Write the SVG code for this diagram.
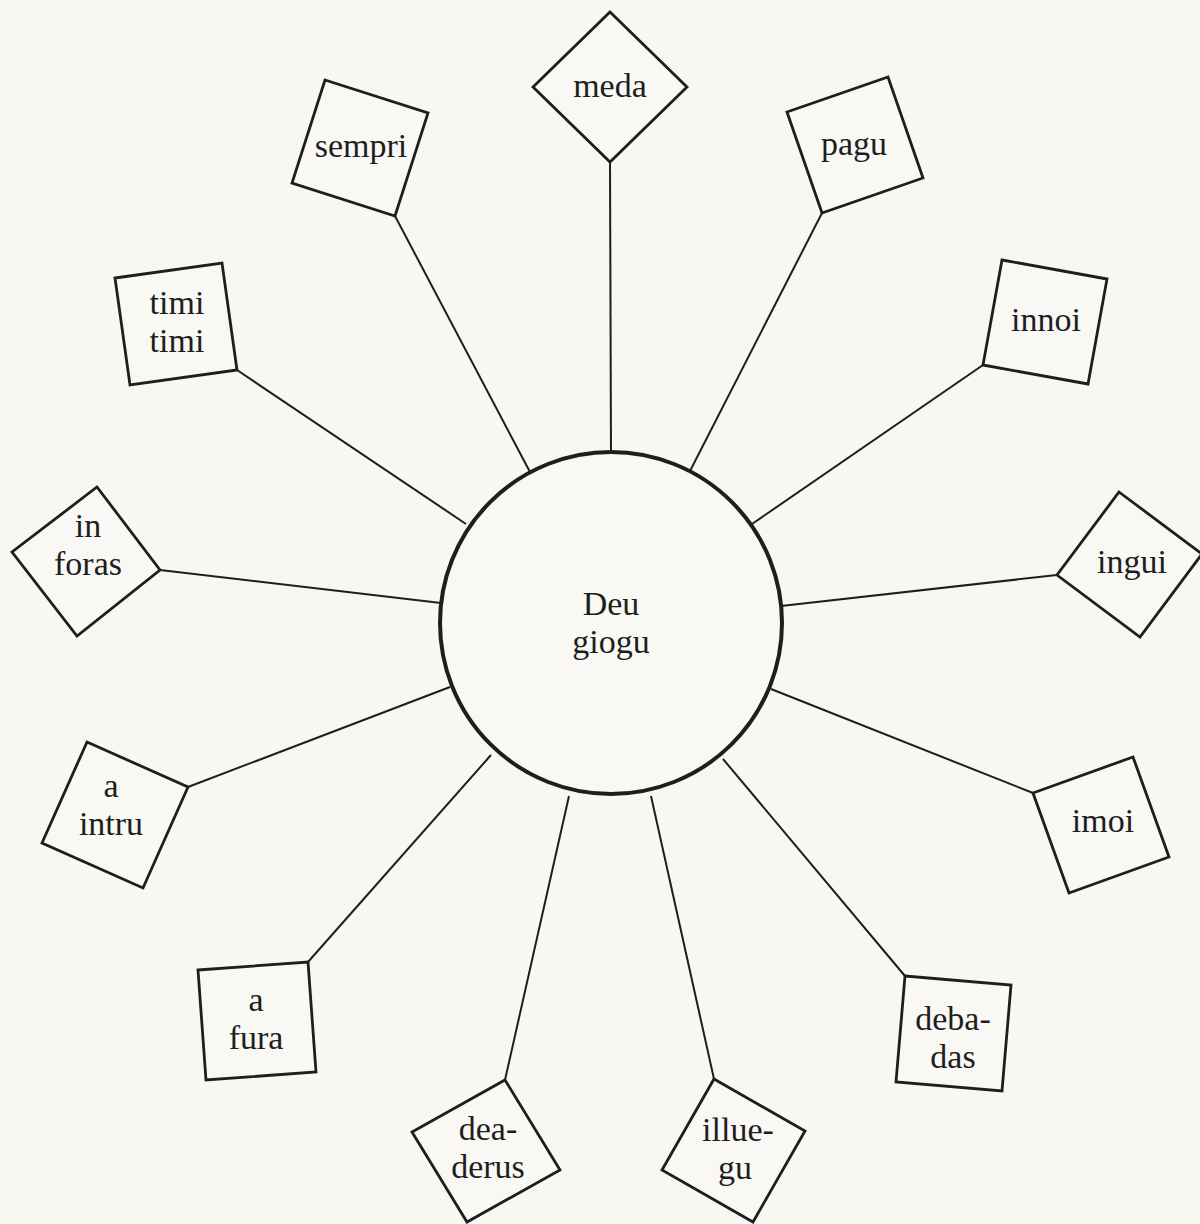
<svg xmlns="http://www.w3.org/2000/svg" width="1200" height="1224" viewBox="0 0 1200 1224">
<style>
.bg{fill:#f8f7f2}
.box{fill:#f9f8f4;stroke:#1e1e1e;stroke-width:2.8;stroke-linejoin:miter}
.hub{fill:#f9f8f4;stroke:#1e1e1e;stroke-width:4}
.lbl{font-family:"Liberation Serif","DejaVu Serif",serif;font-size:34px;fill:#1e1e1e;text-anchor:middle}
#connectors line{stroke:#1e1e1e;stroke-width:2}
</style>
<rect class="bg" x="0" y="0" width="1200" height="1224"/>
<g id="connectors">
<line x1="610" y1="162" x2="611" y2="452"/>
<line x1="395" y1="216" x2="530" y2="472"/>
<line x1="822" y1="213" x2="690" y2="471"/>
<line x1="237" y1="370" x2="466" y2="524"/>
<line x1="983" y1="365" x2="752" y2="524"/>
<line x1="160" y1="570" x2="441" y2="603"/>
<line x1="1057" y1="575" x2="781" y2="606"/>
<line x1="188" y1="787" x2="450" y2="687"/>
<line x1="1033" y1="793" x2="771" y2="689"/>
<line x1="308" y1="962" x2="491" y2="755"/>
<line x1="905" y1="976" x2="723" y2="759"/>
<line x1="505" y1="1080" x2="569" y2="796"/>
<line x1="714" y1="1079" x2="651" y2="796"/>
</g>
<g id="hub">
<circle class="hub" cx="611" cy="623" r="171"/>
<text class="lbl" x="611" y="615">Deu</text>
<text class="lbl" x="611" y="653">giogu</text>
</g>
<g id="meda">
<polygon class="box" points="610,12 687,87 610,162 533,87"/>
<text class="lbl" x="610" y="97">meda</text>
</g>
<g id="sempri">
<polygon class="box" points="325,80 428,113 395,216 292,183"/>
<text class="lbl" x="361" y="157">sempri</text>
</g>
<g id="pagu">
<polygon class="box" points="787,112 888,77 923,178 822,213"/>
<text class="lbl" x="854" y="155">pagu</text>
</g>
<g id="timi">
<polygon class="box" points="115,278 222,263 237,370 130,385"/>
<text class="lbl" x="177" y="314">timi</text>
<text class="lbl" x="177" y="352">timi</text>
</g>
<g id="innoi">
<polygon class="box" points="1002,260 1107,279 1088,384 983,365"/>
<text class="lbl" x="1046" y="331">innoi</text>
</g>
<g id="in-foras">
<polygon class="box" points="97,487 160,570 77,636 12,552"/>
<text class="lbl" x="88" y="537">in</text>
<text class="lbl" x="88" y="575">foras</text>
</g>
<g id="ingui">
<polygon class="box" points="1119,492 1202,554 1140,637 1057,575"/>
<text class="lbl" x="1132" y="573">ingui</text>
</g>
<g id="a-intru">
<polygon class="box" points="87,742 188,787 143,888 42,843"/>
<text class="lbl" x="111" y="797">a</text>
<text class="lbl" x="111" y="835">intru</text>
</g>
<g id="imoi">
<polygon class="box" points="1033,793 1133,757 1169,857 1069,893"/>
<text class="lbl" x="1103" y="832">imoi</text>
</g>
<g id="a-fura">
<polygon class="box" points="198,970 308,962 316,1072 206,1080"/>
<text class="lbl" x="256" y="1011">a</text>
<text class="lbl" x="256" y="1049">fura</text>
</g>
<g id="debadas">
<polygon class="box" points="905,976 1011,985 1002,1091 896,1082"/>
<text class="lbl" x="953" y="1030">deba-</text>
<text class="lbl" x="953" y="1068">das</text>
</g>
<g id="deaderus">
<polygon class="box" points="505,1080 560,1170 467,1222 412,1132"/>
<text class="lbl" x="488" y="1140">dea-</text>
<text class="lbl" x="488" y="1178">derus</text>
</g>
<g id="illuegu">
<polygon class="box" points="714,1079 805,1131 753,1222 662,1170"/>
<text class="lbl" x="738" y="1141">illue-</text>
<text class="lbl" x="735" y="1179">gu</text>
</g>
</svg>
